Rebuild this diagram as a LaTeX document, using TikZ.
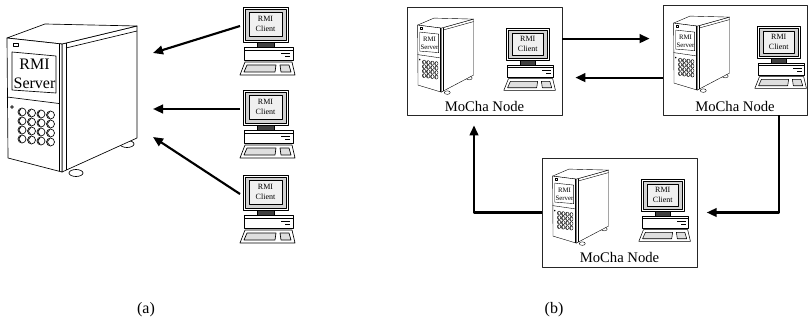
\documentclass[tikz,border=0pt]{standalone}
\usepackage{fontspec}
\setmainfont{Liberation Serif}
\usetikzlibrary{arrows.meta,calc}

\tikzset{
  part/.style={draw=black, fill=white},
  conn/.style={line width=1.6pt, -{Triangle[length=7.5pt,width=6.5pt]}},
  nodebox/.style={draw=black!85, line width=0.6pt, inner sep=0pt},
  nodelabel/.style={font=\fontsize{11}{13}\selectfont, inner sep=0pt},
  caption/.style={font=\fontsize{12}{14}\selectfont, inner sep=0pt},
  srvlabel/.style={font=\fontsize{12}{14.5}\selectfont},
  clilabel/.style={font=\fontsize{6}{7}\selectfont},
  smallsrv/.style={xscale=0.43, yscale=0.5, line width=0.3pt,
    srvlabel/.style={font=\fontsize{5.1}{6.3}\selectfont}},
  smallcli/.style={xscale=0.94, yscale=0.91, line width=0.4pt},
  % tower server, origin near the top-left of the front panel
  server/.pic={
    % feet
    \draw[part] (120,121) ellipse [x radius=7, y radius=3.5];
    \draw[part] (69,150) ellipse [x radius=7, y radius=3.5];
    % side and top faces
    \draw[part] (55,21) -- (130,3) -- (130,115) -- (55,149) -- cycle;
    \draw[part] (0,15) -- (38,1) -- (130,3) -- (55,21) -- cycle;
    \draw (59,20) -- (59,147);
    \draw (59,25) -- (130,8);
    % front panel
    \draw[part] (0,15) -- (55,21) -- (55,149) -- (1,135) -- cycle;
    \draw (52,21) -- (52,148);
    \draw (0,74) -- (52,80.5);
    \draw (5,29) -- (49,33) -- (49,70) -- (5,67) -- cycle;
    \draw (6,20) rectangle (11,23);
    \draw (5,84) circle [radius=1.3];
    % button grid
    \foreach \i in {0,...,3} {
      \foreach \j in {0,...,3} {
        \draw (15+9.5*\i, 89+9*\j+\i) circle [radius=4];
        \draw (15+9.5*\i, 89+9*\j+\i) ++(110:3) arc [start angle=110, end angle=250, radius=3];
      }
    }
    \node[srvlabel, align=center, inner sep=0pt] (-t) at (27.5,51) {RMI\\Server};
  },
  % desktop client, origin at the top-left of the monitor
  client/.pic={
    % keyboard
    \draw[part] (2,55) -- (49,55) -- (52,68) -- (-3,68) -- cycle;
    \draw[fill=gray!25] (4,58) -- (33,58) -- (32,65) -- (1,65) -- cycle;
    \draw[fill=gray!25] (37,58) -- (46,58) -- (48,65) -- (38,65) -- cycle;
    % system unit
    \draw[part] (1,40) rectangle (50,53);
    \draw (1,43) -- (50,43);
    \draw (38,46) -- (47,46);
    \draw (42,49) -- (47,49);
    % stand
    \draw[fill=black!75] (14,35) rectangle (31,40);
    % monitor
    \draw[part] (0,0) rectangle (45,35);
    \draw[fill=gray!35] (2,2) rectangle (43,33);
    \draw[fill=gray!12] (6,5) rectangle (39,29);
    \node[clilabel, align=center, inner sep=0pt] (-t) at (22.5,17) {RMI\\Client};
    \coordinate (-w) at (-3,19);
  }
}

\begin{document}
\begin{tikzpicture}[x=0.75pt, y=-0.75pt, line width=0.5pt, line join=round]
\useasboundingbox (0,0) rectangle (809,324);

% ---- (a) one RMI server, three clients ----
\pic (srv) at (7,23) {server};
\pic (c1) at (243,7) {client};
\pic (c2) at (243,90) {client};
\pic (c3) at (243,175) {client};
\coordinate (ta) at (153,53);
\coordinate (tb) at (153,109);
\coordinate (tc) at (153,137);
\draw[conn] (c1-w) -- (ta);
\draw[conn] (c2-w) -- (c2-w -| tb);
\draw[conn] (c3-w) -- (tc);
\node[caption] (capa) at (146,310) {(a)};

% ---- (b) ring of MoCha nodes ----
\node[nodebox, minimum width=155*0.75pt, minimum height=108*0.75pt] (n1) at (484.5,61) {};
\node[nodebox, minimum width=144*0.75pt, minimum height=110*0.75pt] (n2) at (735,60) {};
\node[nodebox, minimum width=155*0.75pt, minimum height=109*0.75pt] (n3) at (619.5,212.5) {};

\node[nodelabel] (n1l) at ($(n1.south)+(0,-9)$) {MoCha Node};
\node[nodelabel] (n2l) at ($(n2.south)+(0,-9)$) {MoCha Node};
\node[nodelabel] (n3l) at ($(n3.south)+(0,-10)$) {MoCha Node};

\pic[smallsrv] (s1) at ($(n1.north west)+(11,11)$) {server};
\pic[smallsrv] (s2) at ($(n2.north west)+(11,11)$) {server};
\pic[smallsrv] (s3) at ($(n3.north west)+(11,11)$) {server};

\pic[smallcli] (k1) at ($(n1.north west)+(100,22)$) {client};
\pic[smallcli] (k2) at ($(n2.north west)+(95,22)$) {client};
\pic[smallcli] (k3) at ($(n3.north west)+(100,22)$) {client};

\coordinate (p1) at ($(n1.north east)+(0,32)$);
\draw[conn, shorten >=9.75pt] (p1) -- (p1 -| n2.west);
\coordinate (p2) at ($(n2.north west)+(0,73)$);
\draw[conn, shorten >=9.75pt] (p2) -- (p2 -| n1.east);
\coordinate (p3) at ($(n2.south)+(44,0)$);
\draw[conn, shorten >=7pt] (p3) |- (n3.east);
\coordinate (p4) at ($(n1.south)+(-10.5,0)$);
\draw[conn, shorten >=7.5pt] (n3.west) -| (p4);

\node[caption] (capb) at (554,310) {(b)};
\end{tikzpicture}
\end{document}
